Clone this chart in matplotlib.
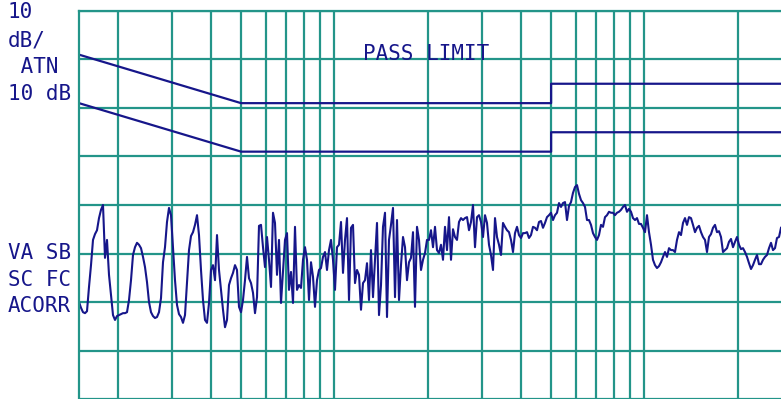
import numpy as np
import matplotlib
matplotlib.use('Agg')
import matplotlib.pyplot as plt
from matplotlib.ticker import FixedLocator, NullLocator

# EMI analyser sweep, 10 dB/div, log frequency (MHz)
f_start = 0.15
f_stop = 27.57

# limit lines (QP and AV), dBuV
lim_f = [0.15, 0.5, 5.0, 5.0, 30.0]
lim_qp = [66, 56, 56, 60, 60]
lim_av = [56, 46, 46, 50, 50]

# trace readings, dBuV, one per sweep point
trace_a = [15.0, 13.8, 12.9, 12.7, 13.1, 18.1, 22.6, 27.8, 29.0, 29.8,
           32.3, 34.0, 35.0, 24.1, 27.8, 20.6, 16.4, 12.3, 11.3, 12.1,
           12.3, 12.5, 12.7, 12.7, 12.9, 15.4, 19.5, 24.7, 26.3, 27.2,
           26.8, 26.1, 24.3, 22.2, 19.1, 15.0, 12.9, 12.1, 11.7, 11.9,
           12.9, 15.8, 23.2, 26.3, 31.5, 34.4, 32.9, 26.3, 19.5, 14.4,
           12.5, 11.9, 10.7, 12.3, 19.1, 25.7, 28.6, 29.4, 30.9, 32.9,
           28.8]
trace_b = [21.6, 15.4, 11.3, 10.7, 14.8, 21.6, 22.6, 19.5, 28.8, 21.6,
           17.5, 13.4, 9.8, 11.3, 18.5, 19.9, 21.0, 22.6, 21.6, 14.0,
           12.9, 15.4, 19.5, 24.3, 19.9, 18.9, 16.9, 12.7, 16.0, 30.7,
           30.9, 26.3, 22.2, 28.4, 23.7, 18.1, 33.4, 31.3, 20.6, 27.8,
           14.8, 21.2, 27.8, 29.2, 17.5, 21.2, 14.8, 30.5, 17.5, 18.5,
           17.9, 23.7, 26.3, 23.7, 15.4, 23.2, 20.2, 14.0, 19.5]
trace_c = [21.6, 22.0, 24.3, 25.3, 21.6, 25.7, 27.8, 23.7, 17.5, 26.3,
           26.8, 31.5, 21.0, 27.8, 32.3, 15.4, 30.3, 30.9, 18.9, 21.6,
           20.6, 13.4, 18.9, 19.5, 23.0, 15.4, 25.7, 16.0, 23.7, 31.3,
           12.3, 18.5, 30.5, 33.4, 11.9, 27.8, 30.9, 34.4, 16.0, 31.9,
           15.4, 22.6, 28.4, 26.3, 19.5, 23.2, 24.1, 29.4, 14.0, 30.5,
           27.8, 21.6, 23.7, 25.1, 27.8, 27.8, 29.8, 26.3, 30.5, 25.7,
           25.1]
trace_d = [26.8, 23.7, 30.5, 25.7, 32.5, 23.7, 30.0, 28.4, 27.8, 31.5,
           32.3, 31.9, 32.3, 32.5, 29.8, 31.5, 35.0, 26.3, 32.5, 32.9,
           31.5, 28.4, 32.9, 31.3, 26.8, 24.7, 21.6, 32.3, 28.4, 26.8,
           24.7, 31.3, 30.5, 29.8, 29.4, 27.8, 25.3, 29.2, 30.5, 28.8,
           28.2, 29.2, 29.2, 29.4, 28.2, 28.8, 30.5, 30.3, 29.8, 31.5,
           31.7, 30.3, 31.3, 32.5, 32.9, 33.4, 31.9, 32.9, 33.4, 35.4]
trace_e = [34.6, 35.4, 35.6, 31.9, 34.8, 35.6, 37.5, 38.7, 39.1, 37.3,
           36.0, 35.4, 34.6, 31.9, 31.9, 30.9, 29.2, 28.4, 27.8, 28.8,
           30.9, 30.5, 32.5, 32.9, 33.6, 33.4, 33.4, 32.9, 33.4, 33.6,
           34.0, 34.6, 35.0, 33.6, 34.2, 33.6, 32.3, 31.9, 32.3, 31.1,
           31.1, 30.3, 29.4, 32.9, 29.4, 26.8, 23.7, 22.6, 22.0, 22.4,
           23.2, 24.3, 25.3, 24.3, 26.1, 25.7, 25.7, 25.3, 27.8, 29.4]
trace_f = [28.8, 31.3, 32.3, 30.9, 32.5, 32.3, 30.9, 29.4, 30.3, 30.7,
           29.4, 28.4, 27.8, 25.3, 28.4, 29.0, 30.3, 30.9, 29.4, 29.6,
           28.4, 25.3, 25.7, 26.1, 27.4, 28.0, 26.3, 27.4, 28.4, 26.8,
           25.9, 26.1, 25.3, 24.3, 23.0, 21.8, 22.6, 23.7, 24.7, 22.8,
           22.8, 23.7, 24.3, 24.7, 26.1, 27.2, 25.7, 26.1, 28.2, 28.4,
           30.3]

trace = np.array(trace_a + trace_b + trace_c + trace_d + trace_e + trace_f)
freq = np.geomspace(f_start, f_stop, len(trace))

grid_f = [0.2, 0.3, 0.4, 0.5, 0.6, 0.7, 0.8, 0.9, 1, 2, 3, 4, 5, 6, 7, 8, 9, 10, 20]
grid_db = [-5, 5, 15, 25, 35, 45, 55, 65, 75]

teal = '#239589'
navy = '#16168a'

W, H = 781, 399
fig = plt.figure(figsize=(W/100, H/100), dpi=100)
ax = fig.add_axes([79/W, 0, 1 - 79/W, 388/H])

ax.set_xscale('log')
ax.set_xlim(f_start, f_stop)
ax.set_ylim(-5, 75)
ax.xaxis.set_major_locator(FixedLocator(grid_f))
ax.xaxis.set_minor_locator(NullLocator())
ax.yaxis.set_major_locator(FixedLocator(grid_db))
ax.tick_params(which='both', length=0, labelbottom=False, labelleft=False)
ax.grid(True, color=teal, lw=1.6)
ax.set_axisbelow(True)
for side in ['right', 'bottom']:
    ax.spines[side].set_visible(False)
for side in ['left', 'top']:
    ax.spines[side].set_color(teal)
    ax.spines[side].set_linewidth(1.6)

ax.plot(lim_f, lim_qp, color=navy, lw=1.6)
ax.plot(lim_f, lim_av, color=navy, lw=1.6)
ax.plot(freq, trace, color=navy, lw=1.5)

mono = dict(family='DejaVu Sans Mono', fontsize=15, color=navy, va='baseline')
def label(x, y, s):
    fig.text(x/W, 1 - y/H, s, **mono)

label(8, 18, '10')
label(8, 47, 'dB/')
label(8, 73, ' ATN')
label(8, 100, '10 dB')
label(8, 259, 'VA SB')
label(8, 286, 'SC FC')
label(8, 312, 'ACORR')
label(363, 60, 'PASS LIMIT')

fig.savefig('out.png', dpi=100)
